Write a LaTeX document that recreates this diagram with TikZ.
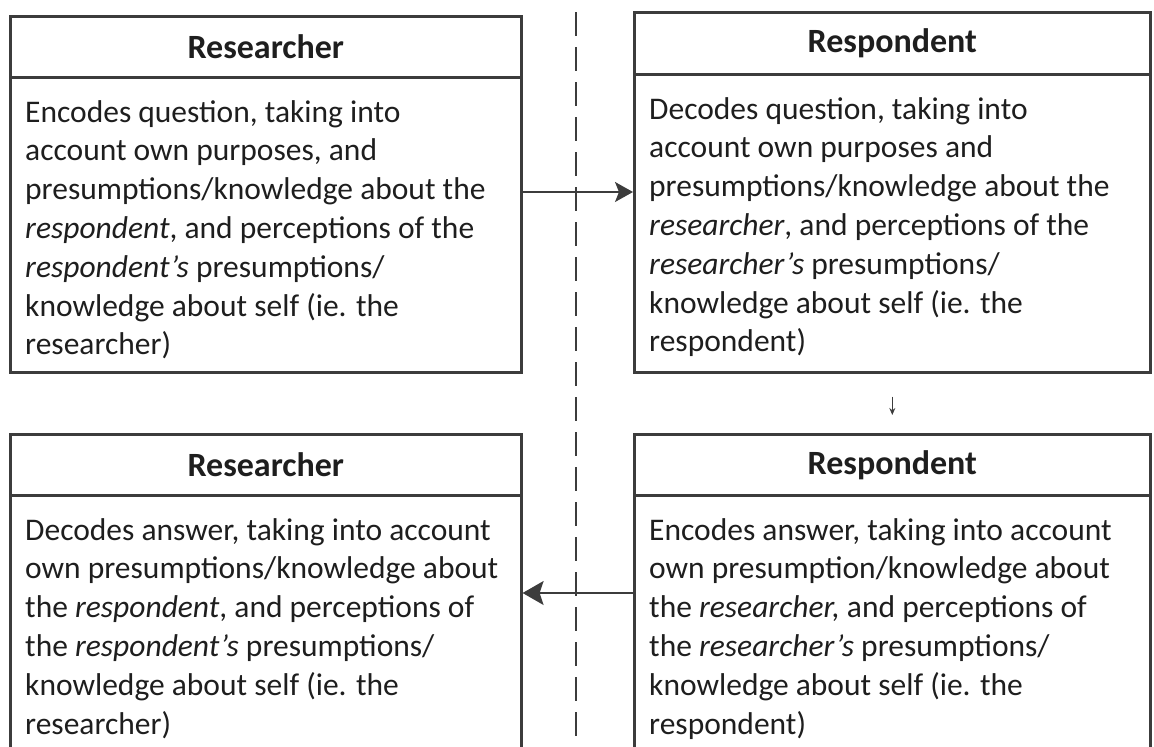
\documentclass[tikz,border=0pt]{standalone}
\usepackage{fontspec}
\setmainfont{Carlito}
\usetikzlibrary{arrows.meta}
\definecolor{frame}{HTML}{3C3C3C}
\definecolor{ink}{HTML}{1E1E1E}
\tikzset{
  panel/.style={draw=frame, line width=2.6pt, rectangle, inner sep=0pt, anchor=north west},
  head/.style={font=\bfseries\fontsize{34}{40}\selectfont, text=ink},
  bodytext/.style={align=left, anchor=base west, inner sep=0pt, text=ink,
    font=\fontsize{31.5}{38.8}\selectfont},
  flow/.style={draw=frame, line width=1.6pt},
  divider/.style={draw=frame, line width=2pt, dash pattern=on 24pt off 11pt},
}
\begin{document}
\begin{tikzpicture}[x=1pt,y=-1pt]
\useasboundingbox (0,0) rectangle (1154,747);
\clip (0,0) rectangle (1154,747);

% dividing line between the two parties
\coordinate (dtop) at (576,12);
\coordinate (dbot) at (576,760);
\draw[divider] (dtop) -- (dbot);

% researcher, question (text node anchored on its last baseline)
\node[panel, head, minimum width=511pt, minimum height=61pt] (h1) at (9,15) {Researcher};
\node[panel, minimum width=511pt, minimum height=295pt] (b1) at (9,76) {};
\node[bodytext] (t1) at ([xshift=16pt,yshift=-278.8pt]b1.north west) {Encodes question, taking into\\
account own purposes, and\\
presumptions/knowledge about the\\
\textit{respondent}, and perceptions of the\\
\textit{respondent’s} presumptions/\\
knowledge about self (ie. the\\
researcher)};

% respondent, question
\node[panel, head, minimum width=516pt, minimum height=62pt] (h2) at (633,11) {Respondent};
\node[panel, minimum width=516pt, minimum height=298pt] (b2) at (633,73) {};
\node[bodytext] (t2) at ([xshift=16pt,yshift=-278.8pt]b2.north west) {Decodes question, taking into\\
account own purposes and\\
presumptions/knowledge about the\\
\textit{researcher}, and perceptions of the\\
\textit{researcher’s} presumptions/\\
knowledge about self (ie. the\\
respondent)};

% researcher, answer
\node[panel, head, minimum width=511pt, minimum height=61pt] (h3) at (9,433) {Researcher};
\node[panel, minimum width=511pt, minimum height=320pt] (b3) at (9,494) {};
\node[bodytext] (t3) at ([xshift=16pt,yshift=-240pt]b3.north west) {Decodes answer, taking into account\\
own presumptions/knowledge about\\
the \textit{respondent}, and perceptions of\\
the \textit{respondent’s} presumptions/\\
knowledge about self (ie. the\\
researcher)};

% respondent, answer
\node[panel, head, minimum width=516pt, minimum height=61pt] (h4) at (633,433) {Respondent};
\node[panel, minimum width=516pt, minimum height=320pt] (b4) at (633,494) {};
\node[bodytext] (t4) at ([xshift=16pt,yshift=-240pt]b4.north west) {Encodes answer, taking into account\\
own presumption/knowledge about\\
the \textit{researcher,} and perceptions of\\
the \textit{researcher’s} presumptions/\\
knowledge about self (ie. the\\
respondent)};

% connectors
\coordinate (qrow) at (0,192);
\coordinate (arow) at (0,593);
\draw[flow, -{Stealth[length=18pt,width=20pt,inset=4pt]}] (b1.east |- qrow) -- (b2.west |- qrow);
\draw[flow, -{Stealth[length=21pt,width=24pt,inset=4pt]}] (b4.west |- arow) -- (b3.east |- arow);
\draw[flow, line width=1.3pt, -{Stealth[length=7pt,width=6pt]}, shorten <=23pt, shorten >=18pt] (b2.south) -- (h4.north);
\end{tikzpicture}
\end{document}
